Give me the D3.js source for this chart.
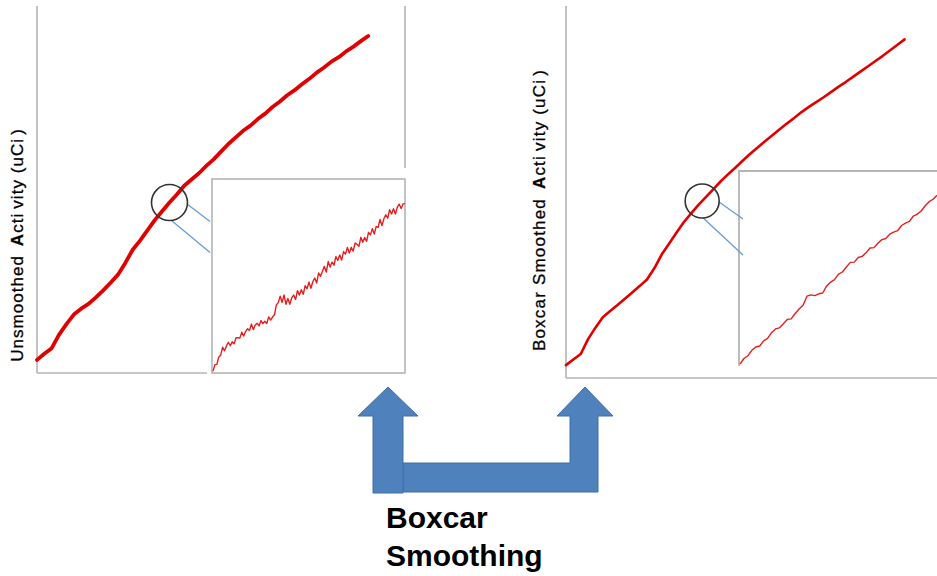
<!DOCTYPE html>
<html><head><meta charset="utf-8">
<script src="https://cdn.jsdelivr.net/npm/d3@7"></script>
<style>
html,body{margin:0;padding:0;background:#fff;}
svg{display:block;}
</style></head>
<body>
<svg id="chart" width="937" height="576"></svg>
<script>
// ---- DATA (activity, arbitrary units 0-100, sampled at even time steps) ----
const leftMain = [3.3,5.0,6.5,10.2,13.1,15.7,17.3,18.6,20.4,22.3,24.4,26.6,29.8,33.4,35.9,38.7,41.5,43.9,46.3,48.5,50.9,52.6,54.3,56.3,58.1,60.2,62.3,64.1,65.9,67.3,69.1,70.6,72.4,73.9,75.6,77.0,78.6,80.1,81.8,83.2,84.8,86.0,87.6,88.9,90.4,91.8];
const rightMain = [3.2,4.7,6.2,10.2,13.3,16.1,17.8,19.4,21.1,22.8,24.5,26.3,29.3,33.0,35.9,38.9,41.7,44.1,46.4,48.5,50.6,52.7,54.6,56.4,58.3,60.1,61.8,63.5,65.1,66.7,68.3,69.8,71.4,72.8,74.1,75.4,76.8,78.2,79.5,80.9,82.3,83.7,85.1,86.5,88.0,89.5,91.0];
const leftInset = [0.5,4.0,4.1,8.1,9.1,13.4,11.5,14.1,16.1,14.2,16.3,15.2,18.5,18.5,18.3,21.5,19.4,22.0,23.4,22.4,25.9,22.9,25.4,26.4,24.9,27.8,26.2,27.4,26.2,29.8,28.1,29.7,30.9,36.3,37.5,41.0,37.6,41.6,36.6,39.7,36.6,40.1,41.6,39.2,44.0,41.6,44.5,42.0,46.7,45.0,48.6,45.3,48.8,50.8,48.1,53.6,51.7,54.4,57.1,54.0,59.7,56.7,59.4,57.7,62.4,60.3,63.3,60.5,65.1,63.7,67.3,64.3,67.4,65.3,69.7,69.1,67.9,72.8,70.2,72.7,70.6,75.5,74.1,77.5,74.6,78.7,78.1,82.5,79.1,82.8,85.0,83.1,87.7,85.4,88.3,85.4,89.1,90.7,88.4,90.9,91.0];
const rightInset = [0.5,3.5,5.0,7.9,9.7,10.2,13.0,14.3,17.4,19.4,20.0,22.2,24.5,24.8,27.7,30.1,32.1,37.0,37.7,37.3,38.3,38.7,42.5,44.6,45.9,48.9,50.0,52.7,55.2,55.3,57.8,58.4,60.3,62.9,63.1,65.5,67.4,68.0,70.3,71.4,72.2,75.0,76.3,77.2,80.1,81.1,82.8,85.6,87.8,89.1,91.3];
const yTitles = ["Unsmoothed", "Boxcar Smoothed"];
const arrowLabel = ["Boxcar", "Smoothing"];
const focusIndex = [18, 18.5]; // sample position highlighted by the magnifier circle

// ---- LAYOUT ----
const svg = d3.select("#chart");
const axisColor = "#b4b4b4";
const red = "#e00000";
const font = "Liberation Sans, Arial, sans-serif";

const panels = [
  {x0:37, x1:405, yb:372, yt:6, xMaxIdx:50, data:leftMain, mainW:3.8,
   bottomEnd:207, rightTop:6, rightBot:168,
   inset:{x0:212, x1:405, yb:373, yt:179, data:leftInset, rect:true},
   circleR:18, conn:[[0.1, 19],[1.46, 50]], connEnd:210,
   labelX:23, labelY:245, spread:1.05},
  {x0:566, x1:934, yb:377, yt:6, xMaxIdx:50, data:rightMain, mainW:2.6,
   bottomEnd:937, rightTop:null,
   inset:{x0:739, x1:937, yb:366, yt:171, data:rightInset, rect:false},
   circleR:17, conn:[[0.06, 18],[1.51, 54]], connEnd:743,
   labelX:545, labelY:210, spread:1.2}
];

panels.forEach((p, pi) => {
  const g = svg.append("g");
  const x = d3.scaleLinear().domain([0, p.xMaxIdx]).range([p.x0, p.x1]);
  const y = d3.scaleLinear().domain([0, 100]).range([p.yb, p.yt]);

  // axes frame
  g.append("line").attr("x1", p.x0).attr("x2", p.x0).attr("y1", p.yt).attr("y2", p.yb + 1)
    .attr("stroke", axisColor).attr("stroke-width", 1.6);
  g.append("line").attr("x1", p.x0).attr("x2", p.bottomEnd).attr("y1", p.yb + 1).attr("y2", p.yb + 1)
    .attr("stroke", axisColor).attr("stroke-width", 1.6);
  if (p.rightTop !== null) {
    g.append("line").attr("x1", p.x1).attr("x2", p.x1).attr("y1", p.rightTop).attr("y2", p.rightBot)
      .attr("stroke", axisColor).attr("stroke-width", 1.6);
  }

  // main curve
  const line = d3.line().x((d, i) => x(i)).y(d => y(d)).curve(d3.curveLinear);
  g.append("path").datum(p.data).attr("d", line).attr("fill", "none")
    .attr("stroke", red).attr("stroke-width", p.mainW).attr("stroke-linejoin", "round").attr("stroke-linecap", "round");

  // inset
  const ins = p.inset;
  const ig = g.append("g");
  ig.append("rect").attr("x", ins.x0).attr("y", ins.yt).attr("width", ins.x1 - ins.x0 + (ins.rect ? 0 : 20))
    .attr("height", ins.yb - ins.yt).attr("fill", "#fff").attr("stroke", "none");
  if (ins.rect) {
    ig.append("rect").attr("x", ins.x0).attr("y", ins.yt).attr("width", ins.x1 - ins.x0).attr("height", ins.yb - ins.yt)
      .attr("fill", "none").attr("stroke", axisColor).attr("stroke-width", 1.6);
  } else {
    ig.append("path").attr("d", `M${ins.x0},${ins.yb}V${ins.yt}H${ins.x1 + 10}`)
      .attr("fill", "none").attr("stroke", axisColor).attr("stroke-width", 1.8);
  }
  const ix = d3.scaleLinear().domain([0, ins.data.length - 1]).range([ins.x0 + 1, ins.x1]);
  const iy = d3.scaleLinear().domain([0, 100]).range([ins.yb - 1, ins.yt + 8]);
  const iline = d3.line().x((d, i) => ix(i)).y(d => iy(d));
  ig.append("path").datum(ins.data).attr("d", iline).attr("fill", "none")
    .attr("stroke", "#e51e1e").attr("stroke-width", 1.4).attr("stroke-linejoin", "round");

  // magnifier circle and connectors
  const fi = focusIndex[pi];
  const lo = Math.floor(fi), hi = Math.ceil(fi);
  const cx = x(fi), cy = y(d3.interpolateNumber(p.data[lo], p.data[hi])(fi - lo));
  const r = p.circleR;
  p.conn.forEach(([ang, dy]) => {
    g.append("line").attr("x1", cx + r * Math.cos(ang)).attr("y1", cy + r * Math.sin(ang))
      .attr("x2", p.connEnd).attr("y2", cy + dy).attr("stroke", "#6a9bd4").attr("stroke-width", 1.3);
  });
  g.append("circle").attr("cx", cx).attr("cy", cy).attr("r", r)
    .attr("fill", "none").attr("stroke", "#333").attr("stroke-width", 1.6);

  // y title
  const t = g.append("text").attr("transform", `translate(${p.labelX},${p.labelY}) rotate(-90)`)
    .attr("text-anchor", "middle").attr("font-family", font)
    .attr("font-size", 17).attr("fill", "#000").attr("stroke", "#000").attr("stroke-width", 0.3)
    .attr("letter-spacing", p.spread);
  t.append("tspan").text(yTitles[pi] + " ");
  t.append("tspan").attr("dx", 3).attr("font-weight", "bold").text("A");
  t.append("tspan").text("cti");
  t.append("tspan").attr("dx", 4).text("vity (uCi");
  t.append("tspan").attr("dx", 3).text(")");
});

// ---- U-shaped arrow ----
const ag = svg.append("g");
const arrowFill = "#4f81bd", arrowStroke = "#3f6ea5";
const leftShaft = [[373,493],[373,416],[358,416],[388,387],[418,416],[403,416],[403,493]];
const bent = [[403,463],[570,463],[570,416],[557,416],[585,387],[613,416],[598,416],[598,492],[403,492]];
[bent, leftShaft].forEach(pts => {
  ag.append("path").attr("d", d3.line()(pts) + "Z").attr("fill", arrowFill)
    .attr("stroke", arrowStroke).attr("stroke-width", 1);
});

arrowLabel.forEach((s, i) => {
  svg.append("text").attr("x", 386).attr("y", 528 + i * 38).attr("font-family", font)
    .attr("font-weight", "bold").attr("font-size", 30).attr("fill", "#000").text(s);
});
</script>
</body></html>
